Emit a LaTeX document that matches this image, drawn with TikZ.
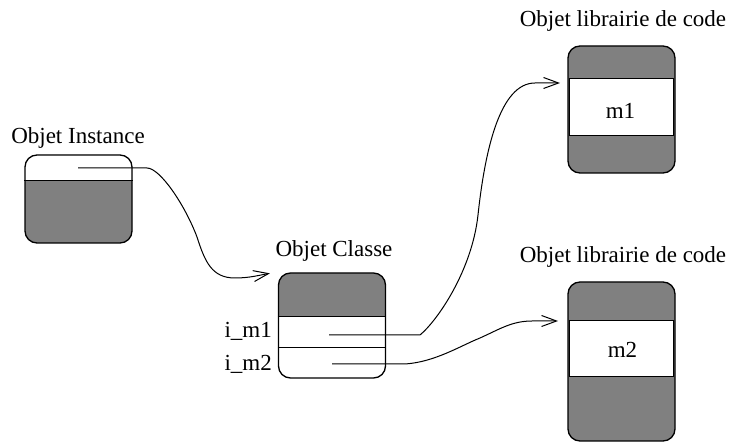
\documentclass[tikz,border=0pt]{standalone}
\usepackage{fontspec}
\setmainfont{Liberation Serif}
\usetikzlibrary{arrows.meta}
\begin{document}
\begin{tikzpicture}[x=1pt,y=-1pt,
  obox/.style={rectangle, rounded corners=12pt, fill=gray, draw=black, line width=1.3pt, inner sep=0pt, minimum width=107pt},
  lbl/.style={font=\fontsize{23}{27}\selectfont, inner sep=0pt},
  sep/.style={draw=black, line width=1.2pt, sharp corners},
  link/.style={draw=black, line width=1pt, -{Straight Barb[length=15pt,width=11pt,line width=1pt]}},
  ]
\useasboundingbox (0,0) rectangle (732,446);

% Objet Instance
\node[obox, minimum height=88pt,
  path picture={\fill[white, sharp corners] (path picture bounding box.north west) rectangle ([yshift=-26.5pt]path picture bounding box.north east);}]
  (ins) at (78.5,199) {};
\draw[sep] ([yshift=-26.5pt]ins.north west) -- ([yshift=-26.5pt]ins.north east);
\node[lbl, anchor=base] (insl) at (78,144) {Objet Instance};

% Objet Classe
\node[obox, minimum height=105pt,
  path picture={\fill[white, sharp corners] ([yshift=-44pt]path picture bounding box.north west) rectangle (path picture bounding box.south east);}]
  (cls) at (332,325.5) {};
\draw[sep] ([yshift=-44pt]cls.north west) -- ([yshift=-44pt]cls.north east);
\draw[sep] ([yshift=-75pt]cls.north west) -- ([yshift=-75pt]cls.north east);
\node[lbl, anchor=base] (clsl) at (334,257) {Objet Classe};
\node[lbl, anchor=base east] (im1) at (272,338) {i\_m1};
\node[lbl, anchor=base east] (im2) at (272,371) {i\_m2};

% Objet librairie de code 1
\node[obox, minimum height=127pt] (lib1) at (621.5,109.5) {};
\draw[sep, fill=white] ([shift={(2pt,-33pt)}]lib1.north west) rectangle ([shift={(-2pt,-90pt)}]lib1.north east);
\node[lbl, anchor=base] (m1) at (620.5,119) {m1};
\node[lbl, anchor=base] (lib1l) at (623,27) {Objet librairie de code};

% Objet librairie de code 2
\node[obox, minimum height=159pt] (lib2) at (621.5,361.5) {};
\draw[sep, fill=white] ([shift={(2pt,-39pt)}]lib2.north west) rectangle ([shift={(-2pt,-95pt)}]lib2.north east);
\node[lbl, anchor=base] (m2) at (622.5,358) {m2};
\node[lbl, anchor=base] (lib2l) at (623,263) {Objet librairie de code};

% connectors
\coordinate (s1) at (78,168);
\coordinate (t1) at ([xshift=-8pt,yshift=-1pt]cls.north west);
\draw[link] (s1) -- (147,168) .. controls (160,168) and (185,205) .. (197,237)
  .. controls (205,262) and (212,278) .. (235,278)
  .. controls (250,278) and (260,275) .. (t1);

\coordinate (s2) at (329,335);
\coordinate (t2) at (560,83);
\draw[link] (s2) -- (420,335) .. controls (438,320) and (472,270) .. (478,215)
  .. controls (485,150) and (500,83) .. (535,83) -- (t2);

\coordinate (s3) at (332,364);
\coordinate (t3) at (558,321);
\draw[link] (s3) -- (405,364) .. controls (435,362) and (460,346) .. (480,338)
  .. controls (500,329) and (512,321) .. (532,321) -- (t3);
\end{tikzpicture}
\end{document}
